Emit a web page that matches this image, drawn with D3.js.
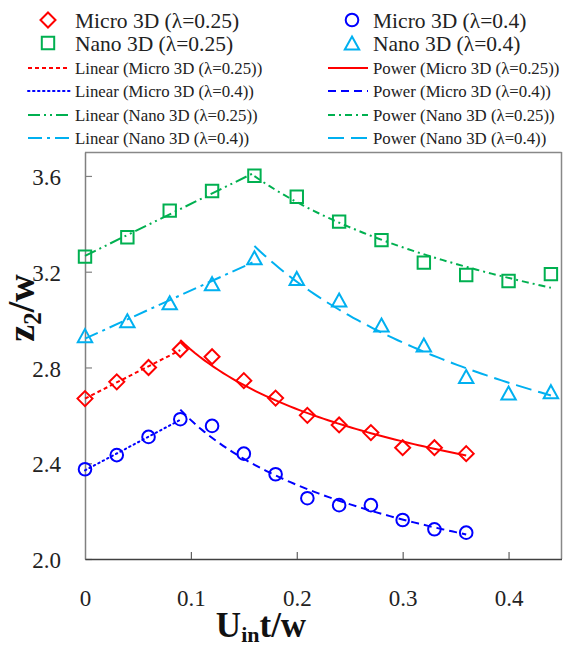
<!DOCTYPE html>
<html>
<head>
<meta charset="utf-8">
<script src="https://cdn.jsdelivr.net/npm/d3@7"></script>
<style>
  html, body { margin: 0; padding: 0; background: #fff; }
  svg { display: block; }
</style>
</head>
<body>
<svg id="chart" width="563" height="646"></svg>
<script>
// Dimensionless time U_in t / w at which each case was sampled
const xMicro = [0, 0.03, 0.06, 0.09, 0.12, 0.15, 0.18, 0.21, 0.24, 0.27, 0.30, 0.33, 0.36];
const xNano  = [0, 0.04, 0.08, 0.12, 0.16, 0.20, 0.24, 0.28, 0.32, 0.36, 0.40, 0.44];

// z2 / w for each case
const micro025 = [2.67, 2.74, 2.80, 2.875, 2.845, 2.745, 2.672, 2.60, 2.56, 2.528, 2.465, 2.465, 2.44];
const micro04  = [2.375, 2.434, 2.51, 2.584, 2.556, 2.44, 2.354, 2.254, 2.225, 2.225, 2.163, 2.124, 2.11];
const nano025  = [3.263, 3.344, 3.455, 3.537, 3.601, 3.513, 3.409, 3.332, 3.238, 3.186, 3.161, 3.19];
const nano04   = [2.933, 2.995, 3.07, 3.15, 3.258, 3.172, 3.082, 2.977, 2.894, 2.762, 2.693, 2.699];

// Index of the peak: linear trend up to it, power-law trend after it
const microPeak = 3;
const nanoPeak = 4;

const xTicks = [0, 0.1, 0.2, 0.3, 0.4];
const xTickLabels = ["0", "0.1", "0.2", "0.3", "0.4"];
const yTicks = [2.0, 2.4, 2.8, 3.2, 3.6];
const yTickLabels = ["2.0", "2.4", "2.8", "3.2", "3.6"];

const seriesNames = ["Micro 3D (λ=0.25)", "Micro 3D (λ=0.4)", "Nano 3D (λ=0.25)", "Nano 3D (λ=0.4)"];

const RED = "#ff0000", BLUE = "#0000ff", GREEN = "#00b050", CYAN = "#00b0f0";
const FONT = '"Liberation Serif", "Times New Roman", serif';

const series = [
  { name: seriesNames[0], xs: xMicro, ys: micro025, peak: microPeak, color: RED,   marker: "diamond",
    linDash: "4,3", powDash: null },
  { name: seriesNames[1], xs: xMicro, ys: micro04,  peak: microPeak, color: BLUE,  marker: "circle",
    linDash: "1.5,3.5", powDash: "8,5", linCap: "round" },
  { name: seriesNames[2], xs: xNano,  ys: nano025,  peak: nanoPeak,  color: GREEN, marker: "square",
    linDash: "12,4,2,4,2,4", powDash: "7,4,2,4" },
  { name: seriesNames[3], xs: xNano,  ys: nano04,   peak: nanoPeak,  color: CYAN,  marker: "triangle",
    linDash: "14,5,3,5", powDash: "16,7" }
];

const svg = d3.select("#chart");
const plotLeft = 85, plotRight = 561.5, plotTop = 152, plotBottom = 559;

const x = d3.scaleLinear().domain([0, 0.45]).range([plotLeft, plotRight]);
const y = d3.scaleLinear().domain([2.0, 3.7]).range([plotBottom, plotTop]);

// Least-squares straight line
function linearFit(xs, ys) {
  const n = xs.length, mx = d3.mean(xs), my = d3.mean(ys);
  let sxy = 0, sxx = 0;
  for (let i = 0; i < n; i++) { sxy += (xs[i] - mx) * (ys[i] - my); sxx += (xs[i] - mx) ** 2; }
  const b = sxy / sxx, a = my - b * mx;
  return t => a + b * t;
}
// Power law y = a x^b, fitted in log-log space
function powerFit(xs, ys) {
  const lx = xs.map(Math.log), ly = ys.map(Math.log);
  const f = linearFit(lx, ly);
  const lnA = f(0), b = f(1) - f(0);
  return t => Math.exp(lnA) * Math.pow(t, b);
}

// Marker shapes
function markerPath(kind) {
  switch (kind) {
    case "diamond": { const r = 7.5; return `M0,${-r}L${r},0L0,${r}L${-r},0Z`; }
    case "square":  { const h = 6.2; return `M${-h},${-h}H${h}V${h}H${-h}Z`; }
    case "triangle":{ const w = 7.2, h = 6.5; return `M0,${-h}L${w},${h}L${-w},${h}Z`; }
    case "circle":  { const r = 6.3; return d3.arc()({innerRadius: 0, outerRadius: r, startAngle: 0, endAngle: 2 * Math.PI}); }
  }
}

// Axes frame
svg.append("line").attr("x1", plotLeft).attr("x2", plotRight).attr("y1", plotTop + 0.5).attr("y2", plotTop + 0.5)
  .attr("stroke", "#888").attr("stroke-width", 1.5);
svg.append("line").attr("x1", plotRight).attr("x2", plotRight).attr("y1", plotTop).attr("y2", plotBottom)
  .attr("stroke", "#888").attr("stroke-width", 1.5);

const yAxis = d3.axisLeft(y).tickValues(yTicks).tickFormat((d, i) => yTickLabels[i])
  .tickSizeInner(-7).tickSizeOuter(0).tickPadding(24);
const gy = svg.append("g").attr("transform", `translate(${plotLeft},0)`).call(yAxis);
gy.select(".domain").attr("stroke", "#808080").attr("stroke-width", 1.5);
gy.selectAll(".tick line").attr("stroke", "#808080").attr("stroke-width", 1.2);
gy.selectAll(".tick text").style("font-family", FONT).style("font-size", "23px")
  .attr("fill", "#222").attr("dy", "0.38em");

const xAxis = d3.axisBottom(x).tickValues(xTicks).tickFormat((d, i) => xTickLabels[i])
  .tickSizeInner(-7).tickSizeOuter(0).tickPadding(31);
const gx = svg.append("g").attr("transform", `translate(0,${plotBottom})`).call(xAxis);
gx.select(".domain").attr("stroke", "#404040").attr("stroke-width", 1.5);
gx.selectAll(".tick line").attr("stroke", "#606060").attr("stroke-width", 1.2)
  .style("display", d => d === 0 ? "none" : null);
gx.selectAll(".tick text").style("font-family", FONT).style("font-size", "23px").attr("fill", "#222");

// Data markers
const plot = svg.append("g");
series.forEach(s => {
  plot.append("g").selectAll("path")
    .data(s.xs.map((xv, i) => [xv, s.ys[i]]))
    .join("path")
    .attr("d", markerPath(s.marker))
    .attr("transform", d => `translate(${x(d[0])},${y(d[1])})`)
    .attr("fill", "none").attr("stroke", s.color).attr("stroke-width", 2);
});

// Trend lines: linear on the rising part, power law on the falling part
const line = d3.line().x(d => x(d[0])).y(d => y(d[1]));
series.forEach(s => {
  const upX = s.xs.slice(0, s.peak + 1), upY = s.ys.slice(0, s.peak + 1);
  const lin = linearFit(upX, upY);
  plot.append("path")
    .attr("d", line([[upX[0], lin(upX[0])], [upX[upX.length - 1], lin(upX[upX.length - 1])]]))
    .attr("fill", "none").attr("stroke", s.color).attr("stroke-width", 2)
    .attr("stroke-dasharray", s.linDash).attr("stroke-linecap", s.linCap || "butt");

  const dnX = s.xs.slice(s.peak), dnY = s.ys.slice(s.peak);
  const pw = powerFit(dnX, dnY);
  const x0 = dnX[0], x1 = dnX[dnX.length - 1];
  const pts = d3.range(0, 61).map(k => { const t = x0 + (x1 - x0) * k / 60; return [t, pw(t)]; });
  plot.append("path")
    .attr("d", line(pts))
    .attr("fill", "none").attr("stroke", s.color).attr("stroke-width", 2)
    .attr("stroke-dasharray", s.powDash);
});

// Axis titles
const yt = svg.append("text")
  .attr("transform", "translate(33.5,308) rotate(-90)")
  .attr("text-anchor", "middle")
  .style("font-family", FONT).style("font-weight", "bold").style("font-size", "38px").attr("fill", "#111");
yt.append("tspan").text("z");
yt.append("tspan").style("font-size", "25px").attr("dy", 7).text("2");
yt.append("tspan").attr("dy", -7).text("/w");

const xt = svg.append("text")
  .attr("x", 261).attr("y", 637)
  .attr("text-anchor", "middle")
  .style("font-family", FONT).style("font-weight", "bold").style("font-size", "35px").attr("fill", "#111");
xt.append("tspan").text("U");
xt.append("tspan").style("font-size", "22px").attr("dy", 5).text("in");
xt.append("tspan").attr("dy", -5).text("t/w");

// Legend
const legend = svg.append("g");
const rowY = [20, 43, 68, 91, 115, 138];
const col = [{ mark: 48, l0: 28, l1: 70, tx: 75 }, { mark: 352, l0: 328, l1: 368, tx: 373 }];

const legendItems = [
  { c: 0, r: 0, s: 0, type: "marker", label: seriesNames[0] },
  { c: 1, r: 0, s: 1, type: "marker", label: seriesNames[1] },
  { c: 0, r: 1, s: 2, type: "marker", label: seriesNames[2] },
  { c: 1, r: 1, s: 3, type: "marker", label: seriesNames[3] },
  { c: 0, r: 2, s: 0, type: "lin", label: `Linear (${seriesNames[0]})` },
  { c: 1, r: 2, s: 0, type: "pow", label: `Power (${seriesNames[0]})` },
  { c: 0, r: 3, s: 1, type: "lin", label: `Linear (${seriesNames[1]})` },
  { c: 1, r: 3, s: 1, type: "pow", label: `Power (${seriesNames[1]})` },
  { c: 0, r: 4, s: 2, type: "lin", label: `Linear (${seriesNames[2]})` },
  { c: 1, r: 4, s: 2, type: "pow", label: `Power (${seriesNames[2]})` },
  { c: 0, r: 5, s: 3, type: "lin", label: `Linear (${seriesNames[3]})` },
  { c: 1, r: 5, s: 3, type: "pow", label: `Power (${seriesNames[3]})` }
];

legendItems.forEach(it => {
  const s = series[it.s], cc = col[it.c], yy = rowY[it.r];
  if (it.type === "marker") {
    legend.append("path").attr("d", markerPath(s.marker))
      .attr("transform", `translate(${cc.mark},${yy})`)
      .attr("fill", "none").attr("stroke", s.color).attr("stroke-width", 2);
    legend.append("text").attr("x", cc.tx).attr("y", yy).attr("dy", "0.35em")
      .style("font-family", FONT).style("font-size", "21.5px").attr("fill", "#222").text(it.label);
  } else {
    legend.append("line").attr("x1", cc.l0).attr("x2", cc.l1).attr("y1", yy).attr("y2", yy)
      .attr("stroke", s.color).attr("stroke-width", 2)
      .attr("stroke-dasharray", it.type === "lin" ? s.linDash : s.powDash)
      .attr("stroke-linecap", it.type === "lin" && s.linCap ? s.linCap : "butt");
    legend.append("text").attr("x", cc.tx).attr("y", yy).attr("dy", "0.35em")
      .style("font-family", FONT).style("font-size", "16.8px").attr("fill", "#222").text(it.label);
  }
});
</script>
</body>
</html>
